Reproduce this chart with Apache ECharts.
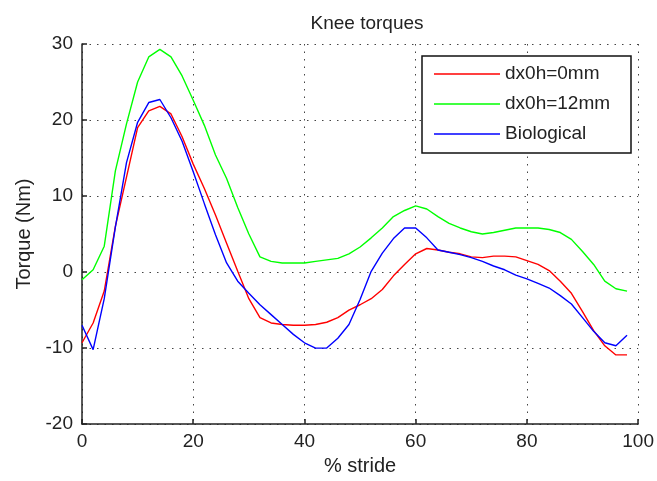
<!DOCTYPE html>
<html>
<head>
<meta charset="utf-8">
<script src="https://cdn.jsdelivr.net/npm/echarts@6/dist/echarts.min.js"></script>
<style>
  html, body { margin: 0; padding: 0; background: #fff; }
  #chart { width: 657px; height: 481px; }
</style>
</head>
<body>
<div id="chart"></div>
<script>
// Knee joint torque over one stride (percent of stride cycle)
const stride = [0, 2, 4, 6, 8, 10, 12, 14, 16, 18, 20, 22, 24, 26, 28, 30, 32, 34, 36, 38,
  40, 42, 44, 46, 48, 50, 52, 54, 56, 58, 60, 62, 64, 66, 68, 70, 72, 74, 76, 78,
  80, 82, 84, 86, 88, 90, 92, 94, 96, 98];

const torque0mm = [-9.3, -6.7, -2.5, 6.0, 12.5, 19.0, 21.2, 21.8, 20.8, 17.8,
  14.2, 11.0, 7.5, 3.8, 0.1, -3.5, -6.0, -6.7, -6.9, -7.0,
  -7.0, -6.9, -6.6, -6.0, -5.0, -4.3, -3.5, -2.3, -0.5, 1.0,
  2.4, 3.1, 2.9, 2.6, 2.4, 2.0, 1.9, 2.1, 2.1, 2.0,
  1.5, 1.0, 0.2, -1.2, -2.8, -5.2, -7.7, -9.7, -10.9, -10.9];

const torque12mm = [-1.0, 0.3, 3.4, 13.3, 19.5, 25.0, 28.3, 29.3, 28.3, 25.8,
  22.6, 19.3, 15.4, 12.3, 8.5, 5.0, 2.0, 1.4, 1.2, 1.2,
  1.2, 1.4, 1.6, 1.8, 2.4, 3.3, 4.5, 5.8, 7.3, 8.1,
  8.7, 8.3, 7.3, 6.4, 5.8, 5.3, 5.0, 5.2, 5.5, 5.8,
  5.8, 5.8, 5.6, 5.2, 4.3, 2.7, 1.0, -1.2, -2.2, -2.5];

const torqueBio = [-7.0, -10.2, -3.5, 5.9, 14.4, 19.7, 22.3, 22.7, 20.3, 17.2,
  13.2, 9.0, 4.9, 1.2, -1.2, -2.8, -4.3, -5.6, -6.9, -8.2,
  -9.3, -10.0, -10.0, -8.7, -6.9, -3.6, 0.1, 2.5, 4.4, 5.8,
  5.8, 4.5, 2.9, 2.6, 2.3, 1.9, 1.4, 0.8, 0.3, -0.4,
  -0.9, -1.5, -2.1, -3.1, -4.2, -6.0, -7.8, -9.3, -9.7, -8.3];

const seriesNames = ['dx0h=0mm', 'dx0h=12mm', 'Biological'];
const seriesColors = ['#ff0000', '#00ff00', '#0000ff'];
const xTicks = { min: 0, max: 100, step: 20 };
const yTicks = { min: -20, max: 30, step: 10 };

const FONT = "'Liberation Sans', Arial, sans-serif";
const INK = '#222';

function pairs(ys) {
  return stride.map((x, i) => [x, ys[i]]);
}

const chart = echarts.init(document.getElementById('chart'), null, { renderer: 'canvas' });

const gridLine = { show: true, lineStyle: { color: '#444', width: 1, type: [1.5, 6] } };

chart.setOption({
  animation: false,
  backgroundColor: '#fff',
  textStyle: { fontFamily: FONT },
  title: {
    text: 'Knee torques',
    left: 362,
    top: 9,
    textAlign: 'center',
    textStyle: { fontFamily: FONT, fontSize: 19, fontWeight: 'normal', color: INK }
  },
  grid: { left: 82, right: 15, top: 44, bottom: 52, containLabel: false },
  xAxis: {
    type: 'value',
    min: xTicks.min, max: xTicks.max, interval: xTicks.step,
    name: '% stride',
    nameLocation: 'middle',
    nameGap: 29,
    nameTextStyle: { fontFamily: FONT, fontSize: 20, color: INK },
    axisLine: { show: true, onZero: false, lineStyle: { color: '#222', width: 1.5 } },
    axisTick: { show: true, inside: true, length: 5, lineStyle: { color: '#222', width: 1.5 } },
    axisLabel: { margin: 8, fontFamily: FONT, fontSize: 19, color: INK },
    splitLine: gridLine
  },
  yAxis: {
    type: 'value',
    min: yTicks.min, max: yTicks.max, interval: yTicks.step,
    name: 'Torque (Nm)',
    nameLocation: 'middle',
    nameGap: 45,
    nameRotate: 90,
    nameTextStyle: { fontFamily: FONT, fontSize: 20, color: INK },
    axisLine: { show: true, onZero: false, lineStyle: { color: '#222', width: 1.5 } },
    axisTick: { show: true, inside: true, length: 5, lineStyle: { color: '#222', width: 1.5 } },
    axisLabel: { margin: 9, fontFamily: FONT, fontSize: 19, color: INK },
    splitLine: gridLine
  },
  graphic: [{
    type: 'rect',
    z: 3,
    shape: { x: 422, y: 56, width: 209, height: 97 },
    style: { fill: '#fff', stroke: '#111', lineWidth: 1.5 }
  }],
  legend: {
    orient: 'vertical',
    left: 434,
    top: 59,
    padding: 0,
    itemGap: 0,
    itemWidth: 66,
    itemHeight: 1.6,
    icon: 'rect',
    z: 5,
    data: seriesNames,
    textStyle: { fontFamily: FONT, fontSize: 19, color: INK, lineHeight: 30, height: 30 }
  },
  series: [torque0mm, torque12mm, torqueBio].map((ys, i) => ({
    name: seriesNames[i],
    type: 'line',
    data: pairs(ys),
    symbol: 'none',
    smooth: false,
    color: seriesColors[i],
    lineStyle: { color: seriesColors[i], width: 1.4 },
    z: 2
  }))
});
</script>
</body>
</html>
